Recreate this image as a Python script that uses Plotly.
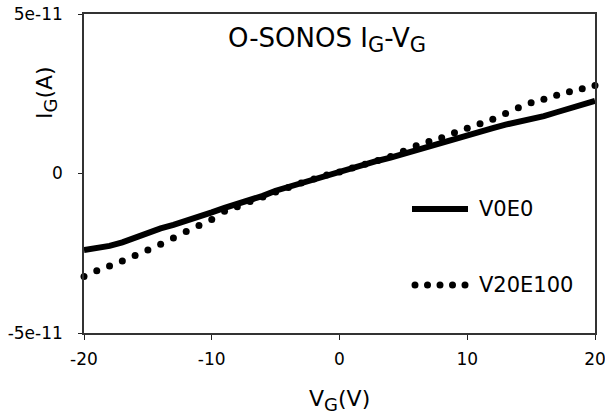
import plotly.graph_objects as go

vg = [-20, -19, -18, -17, -16, -15, -14, -13, -12, -11, -10, -9, -8, -7, -6, -5, -4, -3, -2, -1,
      0, 1, 2, 3, 4, 5, 6, 7, 8, 9, 10, 11, 12, 13, 14, 15, 16, 17, 18, 19, 20]

ig_v0e0 = [-2.40e-11, -2.34e-11, -2.27e-11, -2.16e-11, -2.00e-11, -1.84e-11, -1.72e-11, -1.61e-11,
           -1.49e-11, -1.36e-11, -1.22e-11, -1.08e-11, -0.96e-11, -0.84e-11, -0.70e-11, -0.54e-11,
           -0.42e-11, -0.28e-11, -0.16e-11, -0.04e-11, 0.06e-11, 0.18e-11, 0.30e-11, 0.40e-11,
           0.50e-11, 0.62e-11, 0.72e-11, 0.84e-11, 0.95e-11, 1.07e-11, 1.18e-11, 1.30e-11,
           1.42e-11, 1.53e-11, 1.61e-11, 1.70e-11, 1.80e-11, 1.92e-11, 2.04e-11, 2.16e-11, 2.28e-11]

ig_v20e100 = [-3.23e-11, -3.05e-11, -2.90e-11, -2.74e-11, -2.57e-11, -2.40e-11, -2.22e-11, -2.02e-11,
              -1.82e-11, -1.63e-11, -1.44e-11, -1.18e-11, -1.04e-11, -0.88e-11, -0.74e-11, -0.58e-11,
              -0.44e-11, -0.30e-11, -0.17e-11, -0.05e-11, 0.05e-11, 0.17e-11, 0.29e-11, 0.41e-11,
              0.53e-11, 0.70e-11, 0.87e-11, 1.00e-11, 1.12e-11, 1.28e-11, 1.42e-11, 1.56e-11,
              1.70e-11, 1.88e-11, 2.06e-11, 2.22e-11, 2.33e-11, 2.45e-11, 2.56e-11, 2.66e-11, 2.76e-11]

series_names = ["V0E0", "V20E100"]
x_ticks = [-20, -10, 0, 10, 20]
x_tick_labels = ["-20", "-10", "0", "10", "20"]
y_ticks = [-5e-11, 0, 5e-11]
y_tick_labels = ["-5e-11", "0", "5e-11"]

FONT = "DejaVu Sans"

fig = go.Figure()
fig.add_trace(go.Scatter(x=vg, y=ig_v20e100, mode="markers", name=series_names[1],
                         marker=dict(color="black", size=7), cliponaxis=False, showlegend=False))
fig.add_trace(go.Scatter(x=vg, y=ig_v0e0, mode="lines", name=series_names[0],
                         line=dict(color="black", width=6), showlegend=False))

fig.update_layout(
    width=605, height=414,
    margin=dict(l=84, r=10, t=14, b=81),
    paper_bgcolor="white", plot_bgcolor="white",
    font=dict(family=FONT, color="black", size=17),
    xaxis=dict(range=[-20, 20], tickvals=x_ticks, ticktext=x_tick_labels, ticks="outside",
               ticklen=5, tickcolor="#222", automargin=False, ticklabeloverflow="allow",
               showgrid=False, zeroline=False, showline=True, mirror=True, linecolor="#333",
               linewidth=1.5, ticklabelstandoff=5, tickfont=dict(size=17)),
    yaxis=dict(range=[-5e-11, 5e-11], tickvals=y_ticks, ticktext=y_tick_labels, ticks="outside",
               ticklen=4, tickcolor="#222", automargin=False, showgrid=False, zeroline=False,
               showline=True, mirror=True, linecolor="#333", linewidth=1.5, ticklabelstandoff=12,
               tickfont=dict(size=17)),
)

sub = '<sub><span style="font-size:21px">G</span></sub>'
fig.add_annotation(xref="paper", yref="paper", x=(327 - 84) / 511, y=(333 - 40) / 319,
                   text="O-SONOS I" + sub + "-V" + sub, showarrow=False,
                   font=dict(size=26, family=FONT), xanchor="center", yanchor="middle")
sub2 = '<sub><span style="font-size:18px">G</span></sub>'
fig.add_annotation(xref="paper", yref="paper", x=-(84 - 47) / 511, y=(333 - 93) / 319,
                   text="I" + sub2 + "(A)", showarrow=False, textangle=-90,
                   font=dict(size=22, family=FONT), xanchor="center", yanchor="middle")
fig.add_annotation(xref="paper", yref="paper", x=(339 - 84) / 511, y=-(400 - 333) / 319,
                   text="V" + sub2 + "(V)", showarrow=False,
                   font=dict(size=22, family=FONT), xanchor="center", yanchor="middle")

# manual legend
lx0, lx1 = (412 - 84) / 511, (468 - 84) / 511
ly1 = (333 - 209) / 319
ly2 = (333 - 285) / 319
fig.add_shape(type="line", xref="paper", yref="paper", x0=lx0, x1=lx1, y0=ly1, y1=ly1,
              line=dict(color="black", width=6))
for i in range(5):
    cx = (415 + i * 12.5 - 84) / 511
    fig.add_shape(type="circle", xref="paper", yref="paper",
                  x0=cx - 3.5 / 511, x1=cx + 3.5 / 511, y0=ly2 - 3.5 / 319, y1=ly2 + 3.5 / 319,
                  fillcolor="black", line=dict(width=0))
fig.add_annotation(xref="paper", yref="paper", x=(477 - 84) / 511, y=ly1, text=series_names[0],
                   showarrow=False, xanchor="left", yanchor="middle", font=dict(size=21, family=FONT))
fig.add_annotation(xref="paper", yref="paper", x=(477 - 84) / 511, y=ly2, text=series_names[1],
                   showarrow=False, xanchor="left", yanchor="middle", font=dict(size=21, family=FONT))

fig.write_html("out.html", config={"displayModeBar": False},
               post_script="document.body.style.margin='0';document.body.style.overflow='hidden';")
